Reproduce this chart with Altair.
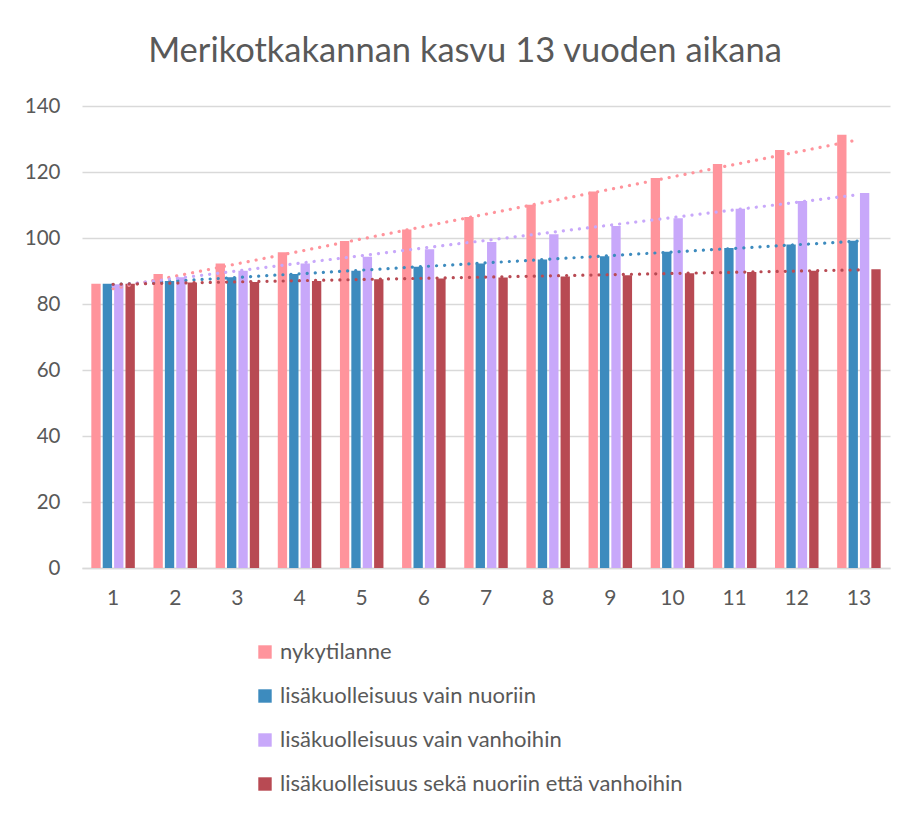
import altair as alt
import pandas as pd

years = list(range(1, 14))
series_names = [
    "nykytilanne",
    "lisäkuolleisuus vain nuoriin",
    "lisäkuolleisuus vain vanhoihin",
    "lisäkuolleisuus sekä nuoriin että vanhoihin",
]
nykytilanne = [86.1, 89.1, 92.3, 95.7, 99.1, 102.6, 106.4, 110.1, 114.1, 118.2, 122.4, 126.7, 131.3]
vain_nuoriin = [86.1, 87.0, 88.1, 89.1, 90.1, 91.3, 92.3, 93.5, 94.5, 95.8, 97.0, 98.0, 99.2]
vain_vanhoihin = [86.0, 88.1, 90.1, 92.3, 94.3, 96.6, 98.8, 101.1, 103.6, 106.0, 108.9, 111.2, 113.6]
seka = [86.1, 86.5, 86.7, 87.0, 87.5, 87.7, 88.0, 88.3, 88.7, 89.3, 89.7, 90.1, 90.5]
colors = ["#FF949C", "#3D8BBE", "#C8A8FA", "#B84A53"]

rows = []
for name, vals in zip(series_names, [nykytilanne, vain_nuoriin, vain_vanhoihin, seka]):
    for y, v in zip(years, vals):
        rows.append({"vuosi": y, "sarja": name, "arvo": v})
df = pd.DataFrame(rows)

FONT = "Lato"
TXT = "#595959"

color = alt.Color(
    "sarja:N",
    scale=alt.Scale(domain=series_names, range=colors),
    legend=alt.Legend(
        title=None,
        orient="none",
        legendX=172,
        legendY=535,
        direction="vertical",
        symbolType="square",
        symbolSize=180,
        symbolStrokeWidth=0,
        labelFontSize=22,
        labelFont=FONT,
        labelColor=TXT,
        labelOffset=4,
        rowPadding=22,
        labelLimit=700,
    ),
)

x = alt.X(
    "vuosi:O",
    scale=alt.Scale(paddingInner=0.3, paddingOuter=0.15),
    axis=alt.Axis(
        title=None,
        labelAngle=0,
        labelFontSize=21,
        labelFont=FONT,
        labelColor=TXT,
        labelPadding=19,
        ticks=False,
        domainColor="#d9d9d9",
        domainWidth=1.5,
        grid=False,
    ),
)

y = alt.Y(
    "arvo:Q",
    scale=alt.Scale(domain=[0, 140], nice=False),
    axis=alt.Axis(
        title=None,
        values=[0, 20, 40, 60, 80, 100, 120, 140],
        labelFontSize=20.5,
        labelFont=FONT,
        labelColor=TXT,
        labelPadding=22,
        ticks=False,
        domain=False,
        gridColor="#d9d9d9",
        gridWidth=1.5,
    ),
)

bars = alt.Chart(df).mark_bar().encode(
    x=x,
    xOffset=alt.XOffset("sarja:N", sort=series_names, scale=alt.Scale(paddingInner=0.18)),
    y=y,
    color=color,
)

trend = (
    alt.Chart(df)
    .transform_regression("vuosi", "arvo", groupby=["sarja"])
    .mark_line(strokeDash=[0.1, 8], strokeCap="round", strokeWidth=3.2)
    .encode(
        x=alt.X("vuosi:O"),
        y=alt.Y("arvo:Q"),
        color=alt.Color("sarja:N", scale=alt.Scale(domain=series_names, range=colors), legend=None),
    )
)

chart = (
    alt.layer(bars, trend)
    .properties(
        width=808,
        height=462,
        title=alt.TitleParams(
            "Merikotkakannan kasvu 13 vuoden aikana",
            fontSize=34.5,
            font=FONT,
            fontWeight="normal",
            color=TXT,
            anchor="middle",
            dx=-21,
            offset=27,
        ),
        autosize=alt.AutoSizeParams(type="none"),
        padding={"left": 74, "top": 98, "right": 10, "bottom": 230},
    )
    .configure_view(stroke=None)
)

chart.save("out.html", embed_options={"renderer": "svg", "actions": False})
